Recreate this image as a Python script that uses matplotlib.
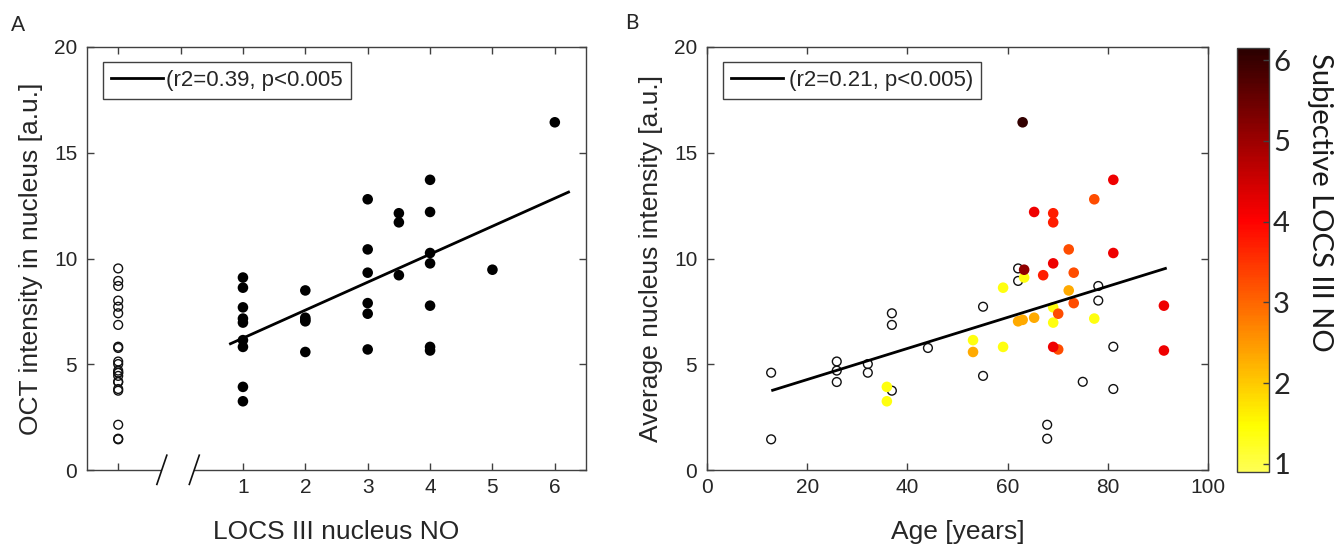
import numpy as np
import matplotlib
matplotlib.use("Agg")
import matplotlib.pyplot as plt
from matplotlib.colors import ListedColormap, Normalize
from matplotlib import transforms
import matplotlib.cm as cm

# ---------------- data ----------------
# graded eyes (LOCS III nucleus NO available)
graded_age = [63.3, 59.1, 69.1, 77.3, 69.1, 53.1, 59.1, 35.9, 35.9,
              72.2, 65.3, 63.0, 62.1, 53.1,
              77.3, 72.2, 73.2, 73.2, 70.1, 70.1,
              69.1, 69.1, 67.1,
              81.1, 65.3, 81.1, 69.1, 91.2, 69.1, 91.2,
              63.3,
              63.0]
graded_intensity = [9.10, 8.62, 7.69, 7.16, 6.97, 6.14, 5.82, 3.93, 3.25,
                    8.49, 7.20, 7.10, 7.03, 5.58,
                    12.80, 10.43, 9.33, 7.89, 7.39, 5.70,
                    12.14, 11.71, 9.21,
                    13.72, 12.20, 10.26, 9.77, 7.77, 5.82, 5.65,
                    9.47,
                    16.44]
graded_locs = [1, 1, 1, 1, 1, 1, 1, 1, 1,
               2, 2, 2, 2, 2,
               3, 3, 3, 3, 3, 3,
               3.5, 3.5, 3.5,
               4, 4, 4, 4, 4, 4, 4,
               5,
               6]

# ungraded eyes (open circles)
open_age = [12.8, 12.8, 25.9, 25.9, 25.9, 32.1, 32.1, 36.9, 36.9, 36.9, 44.1,
            55.1, 55.1, 62.1, 62.1, 67.9, 67.9, 75.0, 78.1, 78.1, 81.1, 81.1]
open_intensity = [4.60, 1.45, 5.13, 4.70, 4.16, 5.01, 4.60, 7.41, 6.86, 3.75, 5.77,
                  7.72, 4.45, 9.53, 8.94, 2.14, 1.48, 4.17, 8.70, 8.01, 5.83, 3.83]
open_x_position = -1  # category position of ungraded eyes in panel A

# regression lines (end points)
fitA_x = [0.80, 6.22]
fitA_y = [5.97, 13.14]
fitB_x = [13.1, 91.5]
fitB_y = [3.77, 9.53]

legendA = "(r2=0.39, p<0.005"
legendB = "(r2=0.21, p<0.005)"

xticksA = [-1, 0, 1, 2, 3, 4, 5, 6]
xticklabelsA = ["", "", "1", "2", "3", "4", "5", "6"]
yticks = [0, 5, 10, 15, 20]
xticksB = [0, 20, 40, 60, 80, 100]
cbar_ticks = [1, 2, 3, 4, 5, 6]

# ---------------- style ----------------
TXT = "#262626"
SPINE = "#404040"
plt.rcParams["font.family"] = ["Liberation Sans", "DejaVu Sans"]

fig = plt.figure(figsize=(13.36, 5.48), dpi=100)
W, H = 1336, 548

def px_axes(l, r, t, b):
    return fig.add_axes([l / W, 1 - b / H, (r - l) / W, (b - t) / H])

axA = px_axes(87, 586, 47, 470)
axB = px_axes(707, 1208, 47, 470)
cax = px_axes(1237, 1269, 48, 472)

def style_axes(ax):
    for s in ax.spines.values():
        s.set_color(SPINE)
        s.set_linewidth(1.0)
    ax.tick_params(direction="in", length=5, width=1.0, color=SPINE,
                   labelsize=15, labelcolor=TXT, top=True, right=True, pad=6)
    ax.tick_params(axis="y", pad=7)

DOT = 58
RING = 40

# point colour scale
pt_cmap = plt.cm.hot_r
pt_norm = Normalize(vmin=-0.714, vmax=6.43)

order = np.argsort(graded_locs, kind="stable")
g_age = np.array(graded_age)[order]
g_int = np.array(graded_intensity)[order]
g_locs = np.array(graded_locs)[order]

# ---------------- panel A ----------------
style_axes(axA)
axA.scatter([open_x_position] * len(open_intensity), open_intensity, s=RING,
            facecolors="none", edgecolors="#111111", linewidths=1.0, zorder=3)
axA.scatter(graded_locs, graded_intensity, s=DOT, color="black",
            edgecolors="none", zorder=3)
lA, = axA.plot(fitA_x, fitA_y, color="black", lw=2.0, zorder=4)
axA.set_xlim(-1.5, 6.5)
axA.set_ylim(0, 20)
axA.set_xticks(xticksA)
axA.set_xticklabels(xticklabelsA)
axA.set_yticks(yticks)
axA.set_xlabel("LOCS III nucleus NO", fontsize=19, color=TXT, labelpad=16)
axA.set_ylabel("OCT intensity in nucleus [a.u.]", fontsize=19, color=TXT, labelpad=8)
legA = axA.legend([lA], [legendA], loc="upper left", bbox_to_anchor=(0.032, 0.9645),
                  fancybox=False, edgecolor=SPINE, framealpha=1, fontsize=16,
                  handlelength=2.35, handletextpad=0.15, borderpad=0.35,
                  borderaxespad=0)
legA.get_frame().set_linewidth(1.0)
for t in legA.get_texts():
    t.set_color(TXT)

# axis break on the x axis of panel A
blend = transforms.blended_transform_factory(axA.transData, axA.transAxes)
axA.add_patch(plt.Rectangle((-0.30, -0.03), 0.52, 0.05, transform=blend,
                            facecolor="white", edgecolor="none", clip_on=False,
                            zorder=5))
for xc in (-0.30, 0.22):
    axA.plot([xc - 0.08, xc + 0.08], [-0.034, 0.035], transform=blend,
             color="#111111", lw=1.2, clip_on=False, zorder=6)

# ---------------- panel B ----------------
style_axes(axB)
axB.scatter(open_age, open_intensity, s=RING, facecolors="none",
            edgecolors="#111111", linewidths=1.0, zorder=3)
axB.scatter(g_age, g_int, s=DOT, c=g_locs, cmap=pt_cmap, norm=pt_norm,
            edgecolors="none", zorder=3)
lB, = axB.plot(fitB_x, fitB_y, color="black", lw=2.0, zorder=4)
axB.set_xlim(0, 100)
axB.set_ylim(0, 20)
axB.set_xticks(xticksB)
axB.set_yticks(yticks)
axB.set_xlabel("Age [years]", fontsize=19, color=TXT, labelpad=16)
axB.set_ylabel("Average nucleus intensity [a.u.]", fontsize=19, color=TXT, labelpad=8)
legB = axB.legend([lB], [legendB], loc="upper left", bbox_to_anchor=(0.032, 0.9645),
                  fancybox=False, edgecolor=SPINE, framealpha=1, fontsize=16,
                  handlelength=2.35, handletextpad=0.25, borderpad=0.35,
                  borderaxespad=0)
legB.get_frame().set_linewidth(1.0)
for t in legB.get_texts():
    t.set_color(TXT)

# ---------------- colorbar ----------------
cb_cmap = ListedColormap(plt.cm.hot_r(np.linspace(0.171, 0.952, 256)))
cb_norm = Normalize(vmin=0.9, vmax=6.15)
sm = cm.ScalarMappable(norm=cb_norm, cmap=cb_cmap)
cb = fig.colorbar(sm, cax=cax, ticks=cbar_ticks)
cb.outline.set_edgecolor(SPINE)
cb.outline.set_linewidth(1.0)
cax.tick_params(direction="in", length=4, width=1.0, color=SPINE,
                labelsize=21, labelcolor=TXT, pad=3)
for t in cax.get_yticklabels():
    t.set_family(["Lato", "DejaVu Sans"])
fig.text(1320 / W, 1 - 53 / H, "Subjective LOCS III NO", rotation=270,
         ha="center", va="top", fontsize=21, color="#1a1a1a",
         family=["Lato", "DejaVu Sans"])

# panel letters
fig.text(11 / W, 1 - 31 / H, "A", fontsize=15, color=TXT, ha="left", va="baseline",
         family=["Lato", "DejaVu Sans"])
fig.text(625 / W, 1 - 29 / H, "B", fontsize=15, color=TXT, ha="left", va="baseline",
         family=["Lato", "DejaVu Sans"])

fig.savefig("out.png", dpi=100, facecolor="white")
